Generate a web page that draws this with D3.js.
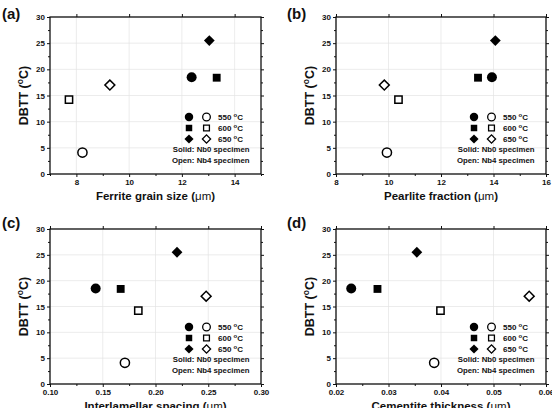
<!DOCTYPE html>
<html>
<head>
<meta charset="utf-8">
<script src="https://cdn.jsdelivr.net/npm/d3@7"></script>
<style>
  body { margin: 0; background: #fff; }
  text { font-family: "Liberation Sans", Arial, sans-serif; font-weight: bold; fill: #111; }
</style>
</head>
<body>
<div id="chart"></div>
<script>
// DBTT values, order: 550, 600, 650 °C
const temps = ["550", "600", "650"];
const dbttNb0 = [18.5, 18.4, 25.5];
const dbttNb4 = [4.1, 14.2, 17.0];

const grainNb0 = [12.37, 13.32, 13.04];
const grainNb4 = [8.23, 7.72, 9.27];
const pearliteNb0 = [13.94, 13.41, 14.07];
const pearliteNb4 = [9.94, 10.38, 9.84];
const spacingNb0 = [0.1433, 0.167, 0.2204];
const spacingNb4 = [0.171, 0.1837, 0.248];
const cementiteNb0 = [0.0229, 0.0279, 0.0354];
const cementiteNb4 = [0.0387, 0.0399, 0.0568];

const yTicks = [0, 5, 10, 15, 20, 25, 30];
const grainTicks = [8, 10, 12, 14];
const pearliteTicks = [8, 10, 12, 14, 16];
const spacingTicks = [0.10, 0.15, 0.20, 0.25, 0.30];
const cementiteTicks = [0.02, 0.03, 0.04, 0.05, 0.06];

const width = 552, height = 408;
const svg = d3.select("#chart").append("svg")
    .attr("width", width)
    .attr("height", height);

const panels = [
    {tag: "(a)", title: "Ferrite grain size ", nb0: grainNb0, nb4: grainNb4, domain: [7, 15], ticks: grainTicks, fmt: d3.format("d"),
     left: 50, right: 261, top: 17, bottom: 174, tagX: 2, tagY: 19},
    {tag: "(b)", title: "Pearlite fraction ", nb0: pearliteNb0, nb4: pearliteNb4, domain: [8, 16], ticks: pearliteTicks, fmt: d3.format("d"),
     left: 336, right: 546, top: 17, bottom: 174, tagX: 287, tagY: 19},
    {tag: "(c)", title: "Interlamellar spacing ", nb0: spacingNb0, nb4: spacingNb4, domain: [0.10, 0.30], ticks: spacingTicks, fmt: d3.format(".2f"),
     left: 50, right: 261, top: 229, bottom: 384, tagX: 2, tagY: 228},
    {tag: "(d)", title: "Cementite thickness ", nb0: cementiteNb0, nb4: cementiteNb4, domain: [0.02, 0.06], ticks: cementiteTicks, fmt: d3.format(".2f"),
     left: 336, right: 546, top: 229, bottom: 384, tagX: 287, tagY: 228}
];

// circle, square, diamond (square turned 45 degrees)
const shapes = [d3.symbolCircle, d3.symbolSquare, d3.symbolSquare];
const turns = [0, 0, 45];
const sizes = [78, 62, 58];

function minorTicks(ticks) {
    let step = ticks[1] - ticks[0];
    let out = [];
    out.push(ticks[0] - step / 2);
    ticks.forEach(t => out.push(t + step / 2));
    return out;
}

panels.forEach(p => {
    let x = d3.scaleLinear().domain(p.domain).range([p.left, p.right]);
    let y = d3.scaleLinear().domain([0, 30]).range([p.bottom, p.top]);
    let g = svg.append("g");

    // grid
    g.selectAll(".vgrid").data(p.ticks).enter().append("line")
        .attr("x1", d => x(d)).attr("x2", d => x(d))
        .attr("y1", p.top).attr("y2", p.bottom)
        .attr("stroke", "#e4e4e4").attr("stroke-width", 0.7);
    g.selectAll(".hgrid").data(yTicks).enter().append("line")
        .attr("x1", p.left).attr("x2", p.right)
        .attr("y1", d => y(d)).attr("y2", d => y(d))
        .attr("stroke", "#e4e4e4").attr("stroke-width", 0.7);

    // axes
    let xMinor = minorTicks(p.ticks).filter(d => d >= p.domain[0] - 1e-9 && d <= p.domain[1] + 1e-9);
    let yMinor = minorTicks(yTicks).filter(d => d >= 0 && d <= 30);

    let bottomAxis = d3.axisBottom(x).tickValues(p.ticks).tickFormat(p.fmt).tickSize(3).tickPadding(2);
    let leftAxis = d3.axisLeft(y).tickValues(yTicks).tickSize(3).tickPadding(2);

    g.append("g").attr("transform", `translate(0,${p.bottom})`).call(bottomAxis);
    g.append("g").attr("transform", `translate(${p.left},0)`).call(leftAxis);
    g.append("g").attr("transform", `translate(0,${p.bottom})`)
        .call(d3.axisBottom(x).tickValues(xMinor).tickFormat("").tickSize(2));
    g.append("g").attr("transform", `translate(${p.left},0)`)
        .call(d3.axisLeft(y).tickValues(yMinor).tickFormat("").tickSize(2));
    g.append("g").attr("transform", `translate(${p.right},0)`)
        .call(d3.axisRight(y).tickValues(yTicks).tickFormat("").tickSize(3));
    g.append("g").attr("transform", `translate(${p.right},0)`)
        .call(d3.axisRight(y).tickValues(yMinor).tickFormat("").tickSize(2));
    g.append("g").attr("transform", `translate(0,${p.top})`)
        .call(d3.axisTop(x).tickValues(p.ticks).tickFormat("").tickSize(3));

    g.selectAll(".domain").remove();
    g.selectAll(".tick line").attr("stroke", "#111").attr("stroke-width", 1);
    g.selectAll(".tick text").attr("font-size", 8).attr("font-weight", "bold")
        .attr("font-family", "Liberation Sans, Arial, sans-serif").attr("fill", "#111");

    g.append("rect")
        .attr("x", p.left).attr("y", p.top)
        .attr("width", p.right - p.left).attr("height", p.bottom - p.top)
        .attr("fill", "none").attr("stroke", "#111").attr("stroke-width", 1.3);

    // markers
    temps.forEach((t, i) => {
        g.append("path")
            .attr("d", d3.symbol().type(shapes[i]).size(sizes[i]))
            .attr("transform", `translate(${x(p.nb0[i])},${y(dbttNb0[i])}) rotate(${turns[i]})`)
            .attr("fill", "#000");
        g.append("path")
            .attr("d", d3.symbol().type(shapes[i]).size(sizes[i] * 0.85))
            .attr("transform", `translate(${x(p.nb4[i])},${y(dbttNb4[i])}) rotate(${turns[i]})`)
            .attr("fill", "#fff").attr("stroke", "#000").attr("stroke-width", 1.5);
    });

    // legend
    let rowY = [p.bottom - 57, p.bottom - 46, p.bottom - 35];
    temps.forEach((t, i) => {
        g.append("path")
            .attr("d", d3.symbol().type(shapes[i]).size(i == 0 ? 56 : 42))
            .attr("transform", `translate(${p.right - 72},${rowY[i]}) rotate(${turns[i]})`)
            .attr("fill", "#000");
        g.append("path")
            .attr("d", d3.symbol().type(shapes[i]).size(i == 0 ? 46 : 34))
            .attr("transform", `translate(${p.right - 54.5},${rowY[i]}) rotate(${turns[i]})`)
            .attr("fill", "#fff").attr("stroke", "#000").attr("stroke-width", 1.3);
        let lt = g.append("text")
            .attr("x", p.right - 43).attr("y", rowY[i] + 3)
            .attr("font-size", 8);
        lt.append("tspan").text(t + " ");
        lt.append("tspan").text("o").attr("font-size", 6).attr("dy", -3.5);
        lt.append("tspan").text("C").attr("dy", 3.5);
    });
    g.append("text")
        .attr("x", p.right - 11.5).attr("y", p.bottom - 22.5)
        .attr("text-anchor", "end").attr("font-size", 7.8)
        .text("Solid: Nb0 specimen");
    g.append("text")
        .attr("x", p.right - 11.5).attr("y", p.bottom - 11)
        .attr("text-anchor", "end").attr("font-size", 7.8)
        .text("Open: Nb4 specimen");

    // panel tag
    svg.append("text")
        .attr("x", p.tagX).attr("y", p.tagY)
        .attr("font-size", 15)
        .text(p.tag);

    // x title (the lower two run off the bottom edge, as in the source figure)
    let xt = svg.append("text")
        .attr("x", (p.left + p.right) / 2).attr("y", p.bottom + 25.5)
        .attr("text-anchor", "middle").attr("font-size", 11.5);
    xt.append("tspan").text(p.title + "(");
    xt.append("tspan").text("\u03bcm").attr("font-weight", "normal");
    xt.append("tspan").text(")");

    // y title
    let yt = svg.append("text")
        .attr("transform", `translate(${p.left - 22},${(p.top + p.bottom) / 2}) rotate(-90)`)
        .attr("text-anchor", "middle").attr("font-size", 12.5);
    yt.append("tspan").text("DBTT (");
    yt.append("tspan").text("o").attr("font-size", 8.5).attr("dy", -5);
    yt.append("tspan").text("C)").attr("dy", 5);
});
</script>
</body>
</html>
